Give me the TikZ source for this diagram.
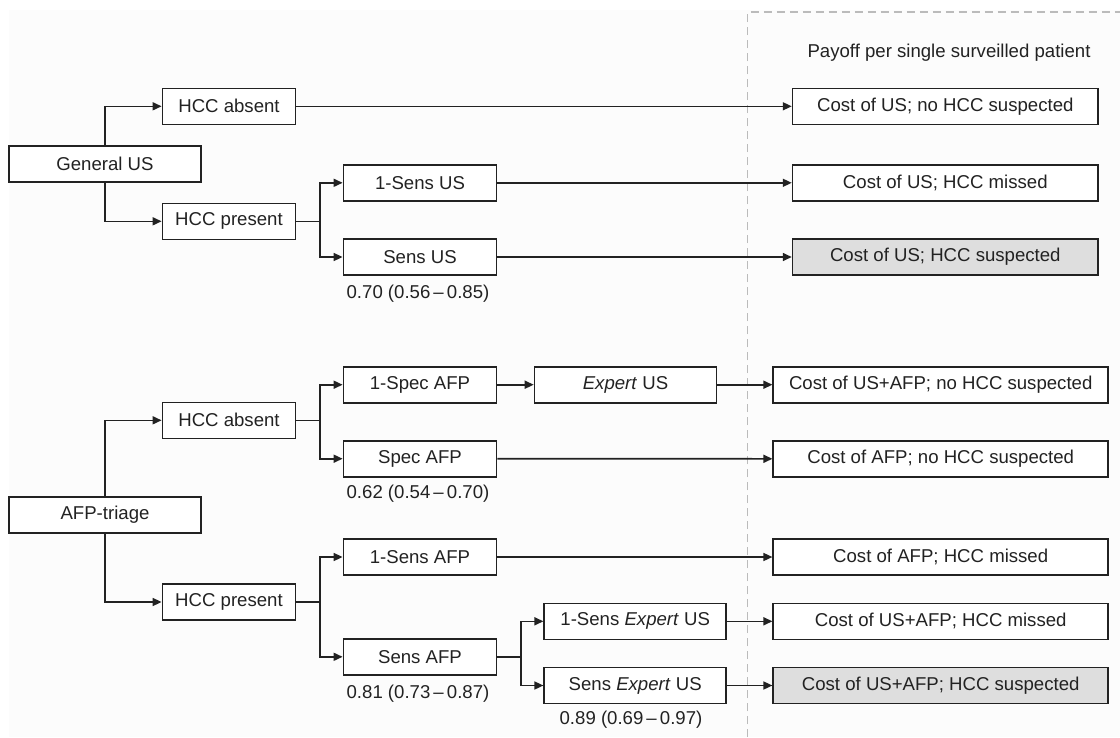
\documentclass[tikz,border=0pt]{standalone}
\usepackage{fontspec}
\setmainfont{Liberation Sans}
\usetikzlibrary{arrows.meta,calc}
\definecolor{bgc}{HTML}{FCFCFC}
\definecolor{linec}{HTML}{222222}
\definecolor{dashc}{HTML}{BBBBBB}
\definecolor{hilite}{HTML}{DEDEDE}
\begin{document}
\begin{tikzpicture}[x=1pt,y=-1pt,
  every node/.style={font=\fontsize{18.6}{20}\selectfont, text=linec},
  box/.style={draw=linec, line width=1.6pt, fill=white, minimum height=36pt, inner sep=0pt},
  wA/.style={minimum width=191.7pt},
  wB/.style={minimum width=133.2pt},
  wC/.style={minimum width=153.2pt},
  wD/.style={minimum width=182pt},
  wE/.style={minimum width=305.5pt},
  wF/.style={minimum width=335pt},
  shade/.style={fill=hilite},
  arr/.style={draw=linec, line width=1.6pt, -{Triangle[length=9pt,width=8pt]}},
  prob/.style={inner sep=0pt}
]
\useasboundingbox (0,0) rectangle (1120,737);
\fill[bgc] (9,10) rectangle (1120,737);
\draw[dashc, line width=1.8pt, dash pattern=on 8pt off 5pt] (747.5,737) -- (747.5,12.3) -- (1120,12.3);

\node (title) at (949,52.3) {Payoff per single surveilled patient};

% General US tree
\node[box,wA] (gus) at (105,163.7) {General US};
\node[box,wB] (ha1) at (229,106.3) {HCC absent};
\node[box,wB] (hp1) at (229,221.3) {HCC present};
\node[box,wC] (ns1) at (420,182.8) {1-Sens US};
\node[box,wC] (s1) at (420,257) {Sens US};
\node[prob] (p1) at (418,293.3) {0.70 (0.56\,–\,0.85)};
\node[box,wE] (o1) at (945.3,106.3) {Cost of US; no HCC suspected};
\node[box,wE] (o2) at (945.3,182.8) {Cost of US; HCC missed};
\node[box,wE,shade] (o3) at (945.3,257) {Cost of US; HCC suspected};

\draw[arr] (gus.north) |- (ha1.west);
\draw[arr] (gus.south) |- (hp1.west);
\draw[arr] (ha1.east) -- (o1.west);
\draw[arr] (hp1.east) -- ([xshift=23.3pt]hp1.east) |- (ns1.west);
\draw[arr] ([xshift=23.3pt]hp1.east) |- (s1.west);
\draw[arr] (ns1.east) -- (o2.west);
\draw[arr] (s1.east) -- (o3.west);

% AFP-triage tree
\node[box,wA] (afp) at (105,514.8) {AFP-triage};
\node[box,wB] (ha2) at (229,420.3) {HCC absent};
\node[box,wB] (hp2) at (229,602) {HCC present};
\node[box,wC] (nspa) at (420,384.7) {1-Spec AFP};
\node[box,wC] (spa) at (420,458.7) {Spec AFP};
\node[prob] (p2) at (418,493.3) {0.62 (0.54\,–\,0.70)};
\node[box,wC] (nsa) at (420,557) {1-Sens AFP};
\node[box,wC] (sa) at (420,656.8) {Sens AFP};
\node[prob] (p3) at (418,693.3) {0.81 (0.73\,–\,0.87)};
\node[box,wD] (eus) at (625.5,384.7) {\textit{Expert} US};
\node[box,wD] (nseus) at (635.2,621.3) {1-Sens \textit{Expert} US};
\node[box,wD] (seus) at (635.2,685.5) {Sens \textit{Expert} US};
\node[prob] (p4) at (631,720) {0.89 (0.69\,–\,0.97)};
\node[box,wF] (oa) at (940.7,384.7) {Cost of US+AFP; no HCC suspected};
\node[box,wF] (ob) at (940.7,458.8) {Cost of AFP; no HCC suspected};
\node[box,wF] (oc) at (940.7,557) {Cost of AFP; HCC missed};
\node[box,wF] (od) at (940.7,621.3) {Cost of US+AFP; HCC missed};
\node[box,wF,shade] (oe) at (940.7,685.5) {Cost of US+AFP; HCC suspected};

\draw[arr] (afp.north) |- (ha2.west);
\draw[arr] (afp.south) |- (hp2.west);
\draw[arr] (ha2.east) -- ([xshift=23.3pt]ha2.east) |- (nspa.west);
\draw[arr] ([xshift=23.3pt]ha2.east) |- (spa.west);
\draw[arr] (nspa.east) -- (eus.west);
\draw[arr] (eus.east) -- (oa.west);
\draw[arr] (spa.east) -- (ob.west);
\draw[arr] (hp2.east) -- ([xshift=23.3pt]hp2.east) |- (nsa.west);
\draw[arr] ([xshift=23.3pt]hp2.east) |- (sa.west);
\draw[arr] (nsa.east) -- (oc.west);
\draw[arr] (sa.east) -- ([xshift=23.6pt]sa.east) |- (nseus.west);
\draw[arr] ([xshift=23.6pt]sa.east) |- (seus.west);
\draw[arr] (nseus.east) -- (od.west);
\draw[arr] (seus.east) -- (oe.west);
\end{tikzpicture}
\end{document}
